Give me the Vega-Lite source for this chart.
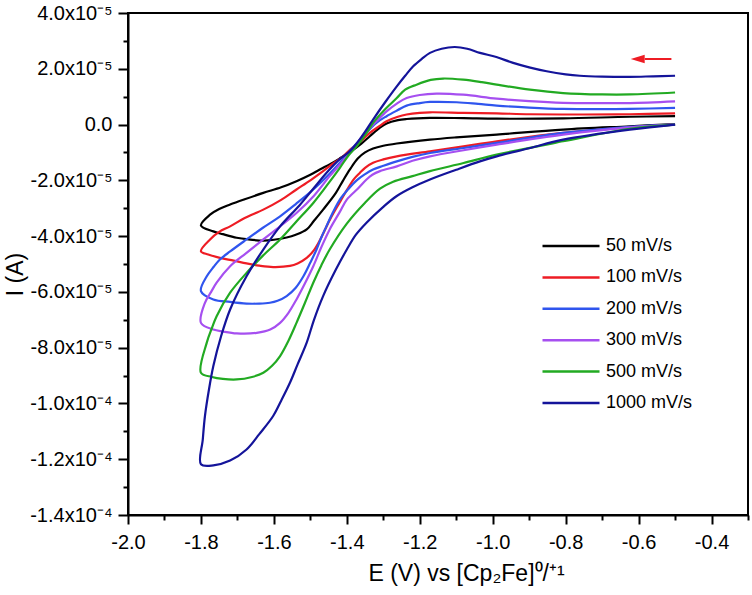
{
"$schema": "https://vega.github.io/schema/vega-lite/v6.json",
"autosize": "none",
"width": 620, "height": 502,
"padding": {"left": 128, "top": 13, "right": 4, "bottom": 80},
"background": "white",
"config": {"font": "Liberation Sans", "view": {"stroke": "black", "strokeWidth": 2}},
"datasets": {
"arrow": [{"a": -0.583, "b": -0.51, "I": 2.35e-5}],
"head": [{"E": -0.6025, "I": 2.35e-5}],
"cv": [
{"s":"50 mV/s","i":0,"E":-0.5,"I":0.02e-5},{"s":"50 mV/s","i":1,"E":-0.624,"I":-0.06e-5},{"s":"50 mV/s","i":2,"E":-0.807,"I":-0.18e-5},{"s":"50 mV/s","i":3,"E":-0.989,"I":-0.36e-5},{"s":"50 mV/s","i":4,"E":-1.1,"I":-0.46e-5},{"s":"50 mV/s","i":5,"E":-1.172,"I":-0.54e-5},{"s":"50 mV/s","i":6,"E":-1.263,"I":-0.68e-5},{"s":"50 mV/s","i":7,"E":-1.3,"I":-0.76e-5},{"s":"50 mV/s","i":8,"E":-1.328,"I":-0.86e-5},{"s":"50 mV/s","i":9,"E":-1.35,"I":-1.0e-5},{"s":"50 mV/s","i":10,"E":-1.37,"I":-1.22e-5},{"s":"50 mV/s","i":11,"E":-1.391,"I":-1.6e-5},{"s":"50 mV/s","i":12,"E":-1.41,"I":-2.0e-5},{"s":"50 mV/s","i":13,"E":-1.43,"I":-2.45e-5},{"s":"50 mV/s","i":14,"E":-1.465,"I":-3.05e-5},{"s":"50 mV/s","i":15,"E":-1.49,"I":-3.45e-5},{"s":"50 mV/s","i":16,"E":-1.51,"I":-3.76e-5},{"s":"50 mV/s","i":17,"E":-1.54,"I":-3.95e-5},{"s":"50 mV/s","i":18,"E":-1.565,"I":-4.05e-5},{"s":"50 mV/s","i":19,"E":-1.6,"I":-4.13e-5},{"s":"50 mV/s","i":20,"E":-1.629,"I":-4.16e-5},{"s":"50 mV/s","i":21,"E":-1.67,"I":-4.12e-5},{"s":"50 mV/s","i":22,"E":-1.702,"I":-4.06e-5},{"s":"50 mV/s","i":23,"E":-1.74,"I":-3.93e-5},{"s":"50 mV/s","i":24,"E":-1.766,"I":-3.83e-5},{"s":"50 mV/s","i":25,"E":-1.8,"I":-3.62e-5},{"s":"50 mV/s","i":26,"E":-1.775,"I":-3.23e-5},{"s":"50 mV/s","i":27,"E":-1.75,"I":-3.03e-5},{"s":"50 mV/s","i":28,"E":-1.72,"I":-2.87e-5},{"s":"50 mV/s","i":29,"E":-1.68,"I":-2.68e-5},{"s":"50 mV/s","i":30,"E":-1.629,"I":-2.45e-5},{"s":"50 mV/s","i":31,"E":-1.58,"I":-2.25e-5},{"s":"50 mV/s","i":32,"E":-1.538,"I":-2.03e-5},{"s":"50 mV/s","i":33,"E":-1.5,"I":-1.8e-5},{"s":"50 mV/s","i":34,"E":-1.474,"I":-1.61e-5},{"s":"50 mV/s","i":35,"E":-1.446,"I":-1.42e-5},{"s":"50 mV/s","i":36,"E":-1.42,"I":-1.22e-5},{"s":"50 mV/s","i":37,"E":-1.391,"I":-0.98e-5},{"s":"50 mV/s","i":38,"E":-1.36,"I":-0.68e-5},{"s":"50 mV/s","i":39,"E":-1.337,"I":-0.42e-5},{"s":"50 mV/s","i":40,"E":-1.31,"I":-0.12e-5},{"s":"50 mV/s","i":41,"E":-1.291,"I":0.04e-5},{"s":"50 mV/s","i":42,"E":-1.26,"I":0.16e-5},{"s":"50 mV/s","i":43,"E":-1.236,"I":0.2e-5},{"s":"50 mV/s","i":44,"E":-1.172,"I":0.24e-5},{"s":"50 mV/s","i":45,"E":-1.08,"I":0.23e-5},{"s":"50 mV/s","i":46,"E":-0.989,"I":0.21e-5},{"s":"50 mV/s","i":47,"E":-0.807,"I":0.22e-5},{"s":"50 mV/s","i":48,"E":-0.624,"I":0.28e-5},{"s":"50 mV/s","i":49,"E":-0.5,"I":0.3e-5},

{"s":"100 mV/s","i":0,"E":-0.5,"I":0},{"s":"100 mV/s","i":1,"E":-0.624,"I":-0.1e-5},{"s":"100 mV/s","i":2,"E":-0.807,"I":-0.3e-5},{"s":"100 mV/s","i":3,"E":-0.989,"I":-0.6e-5},{"s":"100 mV/s","i":4,"E":-1.08,"I":-0.78e-5},{"s":"100 mV/s","i":5,"E":-1.172,"I":-0.96e-5},{"s":"100 mV/s","i":6,"E":-1.263,"I":-1.14e-5},{"s":"100 mV/s","i":7,"E":-1.3,"I":-1.25e-5},{"s":"100 mV/s","i":8,"E":-1.328,"I":-1.37e-5},{"s":"100 mV/s","i":9,"E":-1.35,"I":-1.55e-5},{"s":"100 mV/s","i":10,"E":-1.364,"I":-1.73e-5},{"s":"100 mV/s","i":11,"E":-1.38,"I":-1.95e-5},{"s":"100 mV/s","i":12,"E":-1.4,"I":-2.35e-5},{"s":"100 mV/s","i":13,"E":-1.42,"I":-2.8e-5},{"s":"100 mV/s","i":14,"E":-1.446,"I":-3.4e-5},{"s":"100 mV/s","i":15,"E":-1.474,"I":-4.15e-5},{"s":"100 mV/s","i":16,"E":-1.49,"I":-4.5e-5},{"s":"100 mV/s","i":17,"E":-1.51,"I":-4.78e-5},{"s":"100 mV/s","i":18,"E":-1.535,"I":-4.98e-5},{"s":"100 mV/s","i":19,"E":-1.556,"I":-5.07e-5},{"s":"100 mV/s","i":20,"E":-1.602,"I":-5.11e-5},{"s":"100 mV/s","i":21,"E":-1.64,"I":-5.06e-5},{"s":"100 mV/s","i":22,"E":-1.675,"I":-4.98e-5},{"s":"100 mV/s","i":23,"E":-1.71,"I":-4.88e-5},{"s":"100 mV/s","i":24,"E":-1.748,"I":-4.78e-5},{"s":"100 mV/s","i":25,"E":-1.78,"I":-4.66e-5},{"s":"100 mV/s","i":26,"E":-1.8,"I":-4.54e-5},{"s":"100 mV/s","i":27,"E":-1.775,"I":-4.12e-5},{"s":"100 mV/s","i":28,"E":-1.75,"I":-3.85e-5},{"s":"100 mV/s","i":29,"E":-1.72,"I":-3.65e-5},{"s":"100 mV/s","i":30,"E":-1.68,"I":-3.35e-5},{"s":"100 mV/s","i":31,"E":-1.629,"I":-3.05e-5},{"s":"100 mV/s","i":32,"E":-1.58,"I":-2.7e-5},{"s":"100 mV/s","i":33,"E":-1.538,"I":-2.33e-5},{"s":"100 mV/s","i":34,"E":-1.5,"I":-2.0e-5},{"s":"100 mV/s","i":35,"E":-1.465,"I":-1.67e-5},{"s":"100 mV/s","i":36,"E":-1.44,"I":-1.42e-5},{"s":"100 mV/s","i":37,"E":-1.41,"I":-1.14e-5},{"s":"100 mV/s","i":38,"E":-1.391,"I":-0.9e-5},{"s":"100 mV/s","i":39,"E":-1.36,"I":-0.58e-5},{"s":"100 mV/s","i":40,"E":-1.337,"I":-0.3e-5},{"s":"100 mV/s","i":41,"E":-1.31,"I":-0.05e-5},{"s":"100 mV/s","i":42,"E":-1.291,"I":0.12e-5},{"s":"100 mV/s","i":43,"E":-1.26,"I":0.28e-5},{"s":"100 mV/s","i":44,"E":-1.236,"I":0.36e-5},{"s":"100 mV/s","i":45,"E":-1.2,"I":0.42e-5},{"s":"100 mV/s","i":46,"E":-1.172,"I":0.44e-5},{"s":"100 mV/s","i":47,"E":-1.081,"I":0.42e-5},{"s":"100 mV/s","i":48,"E":-0.989,"I":0.4e-5},{"s":"100 mV/s","i":49,"E":-0.898,"I":0.37e-5},{"s":"100 mV/s","i":50,"E":-0.75,"I":0.36e-5},{"s":"100 mV/s","i":51,"E":-0.624,"I":0.37e-5},{"s":"100 mV/s","i":52,"E":-0.5,"I":0.4e-5},

{"s":"200 mV/s","i":0,"E":-0.5,"I":0},{"s":"200 mV/s","i":1,"E":-0.624,"I":-0.08e-5},{"s":"200 mV/s","i":2,"E":-0.807,"I":-0.3e-5},{"s":"200 mV/s","i":3,"E":-0.989,"I":-0.66e-5},{"s":"200 mV/s","i":4,"E":-1.08,"I":-0.84e-5},{"s":"200 mV/s","i":5,"E":-1.172,"I":-1.02e-5},{"s":"200 mV/s","i":6,"E":-1.22,"I":-1.16e-5},{"s":"200 mV/s","i":7,"E":-1.263,"I":-1.32e-5},{"s":"200 mV/s","i":8,"E":-1.3,"I":-1.48e-5},{"s":"200 mV/s","i":9,"E":-1.328,"I":-1.61e-5},{"s":"200 mV/s","i":10,"E":-1.35,"I":-1.78e-5},{"s":"200 mV/s","i":11,"E":-1.373,"I":-2.0e-5},{"s":"200 mV/s","i":12,"E":-1.395,"I":-2.3e-5},{"s":"200 mV/s","i":13,"E":-1.419,"I":-2.69e-5},{"s":"200 mV/s","i":14,"E":-1.44,"I":-3.2e-5},{"s":"200 mV/s","i":15,"E":-1.456,"I":-3.65e-5},{"s":"200 mV/s","i":16,"E":-1.47,"I":-4.05e-5},{"s":"200 mV/s","i":17,"E":-1.483,"I":-4.48e-5},{"s":"200 mV/s","i":18,"E":-1.5,"I":-4.95e-5},{"s":"200 mV/s","i":19,"E":-1.519,"I":-5.44e-5},{"s":"200 mV/s","i":20,"E":-1.54,"I":-5.85e-5},{"s":"200 mV/s","i":21,"E":-1.565,"I":-6.15e-5},{"s":"200 mV/s","i":22,"E":-1.59,"I":-6.32e-5},{"s":"200 mV/s","i":23,"E":-1.611,"I":-6.39e-5},{"s":"200 mV/s","i":24,"E":-1.64,"I":-6.42e-5},{"s":"200 mV/s","i":25,"E":-1.675,"I":-6.42e-5},{"s":"200 mV/s","i":26,"E":-1.72,"I":-6.36e-5},{"s":"200 mV/s","i":27,"E":-1.766,"I":-6.27e-5},{"s":"200 mV/s","i":28,"E":-1.8,"I":-5.97e-5},{"s":"200 mV/s","i":29,"E":-1.784,"I":-5.44e-5},{"s":"200 mV/s","i":30,"E":-1.765,"I":-5.1e-5},{"s":"200 mV/s","i":31,"E":-1.748,"I":-4.84e-5},{"s":"200 mV/s","i":32,"E":-1.72,"I":-4.55e-5},{"s":"200 mV/s","i":33,"E":-1.675,"I":-4.12e-5},{"s":"200 mV/s","i":34,"E":-1.63,"I":-3.7e-5},{"s":"200 mV/s","i":35,"E":-1.583,"I":-3.29e-5},{"s":"200 mV/s","i":36,"E":-1.54,"I":-2.85e-5},{"s":"200 mV/s","i":37,"E":-1.492,"I":-2.33e-5},{"s":"200 mV/s","i":38,"E":-1.45,"I":-1.8e-5},{"s":"200 mV/s","i":39,"E":-1.419,"I":-1.37e-5},{"s":"200 mV/s","i":40,"E":-1.385,"I":-0.85e-5},{"s":"200 mV/s","i":41,"E":-1.355,"I":-0.42e-5},{"s":"200 mV/s","i":42,"E":-1.32,"I":0.05e-5},{"s":"200 mV/s","i":43,"E":-1.291,"I":0.3e-5},{"s":"200 mV/s","i":44,"E":-1.26,"I":0.52e-5},{"s":"200 mV/s","i":45,"E":-1.236,"I":0.68e-5},{"s":"200 mV/s","i":46,"E":-1.2,"I":0.77e-5},{"s":"200 mV/s","i":47,"E":-1.172,"I":0.81e-5},{"s":"200 mV/s","i":48,"E":-1.099,"I":0.8e-5},{"s":"200 mV/s","i":49,"E":-1.04,"I":0.74e-5},{"s":"200 mV/s","i":50,"E":-0.989,"I":0.68e-5},{"s":"200 mV/s","i":51,"E":-0.9,"I":0.61e-5},{"s":"200 mV/s","i":52,"E":-0.807,"I":0.56e-5},{"s":"200 mV/s","i":53,"E":-0.7,"I":0.55e-5},{"s":"200 mV/s","i":54,"E":-0.624,"I":0.56e-5},{"s":"200 mV/s","i":55,"E":-0.5,"I":0.6e-5},

{"s":"300 mV/s","i":0,"E":-0.5,"I":0},{"s":"300 mV/s","i":1,"E":-0.624,"I":-0.1e-5},{"s":"300 mV/s","i":2,"E":-0.807,"I":-0.36e-5},{"s":"300 mV/s","i":3,"E":-0.989,"I":-0.72e-5},{"s":"300 mV/s","i":4,"E":-1.08,"I":-0.92e-5},{"s":"300 mV/s","i":5,"E":-1.172,"I":-1.14e-5},{"s":"300 mV/s","i":6,"E":-1.22,"I":-1.3e-5},{"s":"300 mV/s","i":7,"E":-1.263,"I":-1.5e-5},{"s":"300 mV/s","i":8,"E":-1.309,"I":-1.67e-5},{"s":"300 mV/s","i":9,"E":-1.33,"I":-1.8e-5},{"s":"300 mV/s","i":10,"E":-1.346,"I":-1.97e-5},{"s":"300 mV/s","i":11,"E":-1.37,"I":-2.3e-5},{"s":"300 mV/s","i":12,"E":-1.4,"I":-2.69e-5},{"s":"300 mV/s","i":13,"E":-1.42,"I":-3.15e-5},{"s":"300 mV/s","i":14,"E":-1.447,"I":-3.76e-5},{"s":"300 mV/s","i":15,"E":-1.47,"I":-4.4e-5},{"s":"300 mV/s","i":16,"E":-1.492,"I":-5.08e-5},{"s":"300 mV/s","i":17,"E":-1.515,"I":-5.7e-5},{"s":"300 mV/s","i":18,"E":-1.538,"I":-6.27e-5},{"s":"300 mV/s","i":19,"E":-1.56,"I":-6.75e-5},{"s":"300 mV/s","i":20,"E":-1.583,"I":-7.11e-5},{"s":"300 mV/s","i":21,"E":-1.61,"I":-7.35e-5},{"s":"300 mV/s","i":22,"E":-1.647,"I":-7.47e-5},{"s":"300 mV/s","i":23,"E":-1.702,"I":-7.49e-5},{"s":"300 mV/s","i":24,"E":-1.74,"I":-7.42e-5},{"s":"300 mV/s","i":25,"E":-1.766,"I":-7.35e-5},{"s":"300 mV/s","i":26,"E":-1.8,"I":-7.11e-5},{"s":"300 mV/s","i":27,"E":-1.789,"I":-6.39e-5},{"s":"300 mV/s","i":28,"E":-1.772,"I":-6.0e-5},{"s":"300 mV/s","i":29,"E":-1.757,"I":-5.67e-5},{"s":"300 mV/s","i":30,"E":-1.72,"I":-5.08e-5},{"s":"300 mV/s","i":31,"E":-1.675,"I":-4.6e-5},{"s":"300 mV/s","i":32,"E":-1.629,"I":-4.12e-5},{"s":"300 mV/s","i":33,"E":-1.583,"I":-3.65e-5},{"s":"300 mV/s","i":34,"E":-1.538,"I":-3.17e-5},{"s":"300 mV/s","i":35,"E":-1.49,"I":-2.55e-5},{"s":"300 mV/s","i":36,"E":-1.447,"I":-1.85e-5},{"s":"300 mV/s","i":37,"E":-1.42,"I":-1.45e-5},{"s":"300 mV/s","i":38,"E":-1.4,"I":-1.14e-5},{"s":"300 mV/s","i":39,"E":-1.38,"I":-0.85e-5},{"s":"300 mV/s","i":40,"E":-1.355,"I":-0.36e-5},{"s":"300 mV/s","i":41,"E":-1.32,"I":0.1e-5},{"s":"300 mV/s","i":42,"E":-1.291,"I":0.47e-5},{"s":"300 mV/s","i":43,"E":-1.26,"I":0.78e-5},{"s":"300 mV/s","i":44,"E":-1.236,"I":0.95e-5},{"s":"300 mV/s","i":45,"E":-1.2,"I":1.06e-5},{"s":"300 mV/s","i":46,"E":-1.154,"I":1.11e-5},{"s":"300 mV/s","i":47,"E":-1.081,"I":1.07e-5},{"s":"300 mV/s","i":48,"E":-0.989,"I":0.93e-5},{"s":"300 mV/s","i":49,"E":-0.9,"I":0.84e-5},{"s":"300 mV/s","i":50,"E":-0.807,"I":0.78e-5},{"s":"300 mV/s","i":51,"E":-0.7,"I":0.77e-5},{"s":"300 mV/s","i":52,"E":-0.624,"I":0.77e-5},{"s":"300 mV/s","i":53,"E":-0.5,"I":0.83e-5},

{"s":"500 mV/s","i":0,"E":-0.5,"I":0},{"s":"500 mV/s","i":1,"E":-0.624,"I":-0.15e-5},{"s":"500 mV/s","i":2,"E":-0.807,"I":-0.6e-5},{"s":"500 mV/s","i":3,"E":-0.989,"I":-1.08e-5},{"s":"500 mV/s","i":4,"E":-1.08,"I":-1.38e-5},{"s":"500 mV/s","i":5,"E":-1.172,"I":-1.67e-5},{"s":"500 mV/s","i":6,"E":-1.22,"I":-1.85e-5},{"s":"500 mV/s","i":7,"E":-1.273,"I":-2.05e-5},{"s":"500 mV/s","i":8,"E":-1.309,"I":-2.3e-5},{"s":"500 mV/s","i":9,"E":-1.35,"I":-2.8e-5},{"s":"500 mV/s","i":10,"E":-1.4,"I":-3.55e-5},{"s":"500 mV/s","i":11,"E":-1.447,"I":-4.48e-5},{"s":"500 mV/s","i":12,"E":-1.47,"I":-5.05e-5},{"s":"500 mV/s","i":13,"E":-1.492,"I":-5.67e-5},{"s":"500 mV/s","i":14,"E":-1.515,"I":-6.4e-5},{"s":"500 mV/s","i":15,"E":-1.538,"I":-7.11e-5},{"s":"500 mV/s","i":16,"E":-1.56,"I":-7.75e-5},{"s":"500 mV/s","i":17,"E":-1.583,"I":-8.3e-5},{"s":"500 mV/s","i":18,"E":-1.605,"I":-8.65e-5},{"s":"500 mV/s","i":19,"E":-1.629,"I":-8.9e-5},{"s":"500 mV/s","i":20,"E":-1.66,"I":-9.05e-5},{"s":"500 mV/s","i":21,"E":-1.702,"I":-9.14e-5},{"s":"500 mV/s","i":22,"E":-1.74,"I":-9.12e-5},{"s":"500 mV/s","i":23,"E":-1.77,"I":-9.05e-5},{"s":"500 mV/s","i":24,"E":-1.8,"I":-8.9e-5},{"s":"500 mV/s","i":25,"E":-1.784,"I":-7.82e-5},{"s":"500 mV/s","i":26,"E":-1.77,"I":-7.3e-5},{"s":"500 mV/s","i":27,"E":-1.757,"I":-6.87e-5},{"s":"500 mV/s","i":28,"E":-1.72,"I":-6.03e-5},{"s":"500 mV/s","i":29,"E":-1.675,"I":-5.32e-5},{"s":"500 mV/s","i":30,"E":-1.63,"I":-4.7e-5},{"s":"500 mV/s","i":31,"E":-1.583,"I":-4.12e-5},{"s":"500 mV/s","i":32,"E":-1.54,"I":-3.5e-5},{"s":"500 mV/s","i":33,"E":-1.492,"I":-2.81e-5},{"s":"500 mV/s","i":34,"E":-1.45,"I":-2.1e-5},{"s":"500 mV/s","i":35,"E":-1.419,"I":-1.55e-5},{"s":"500 mV/s","i":36,"E":-1.395,"I":-1.1e-5},{"s":"500 mV/s","i":37,"E":-1.373,"I":-0.78e-5},{"s":"500 mV/s","i":38,"E":-1.35,"I":-0.38e-5},{"s":"500 mV/s","i":39,"E":-1.328,"I":0.06e-5},{"s":"500 mV/s","i":40,"E":-1.295,"I":0.55e-5},{"s":"500 mV/s","i":41,"E":-1.263,"I":0.95e-5},{"s":"500 mV/s","i":42,"E":-1.24,"I":1.25e-5},{"s":"500 mV/s","i":43,"E":-1.209,"I":1.43e-5},{"s":"500 mV/s","i":44,"E":-1.17,"I":1.6e-5},{"s":"500 mV/s","i":45,"E":-1.136,"I":1.65e-5},{"s":"500 mV/s","i":46,"E":-1.081,"I":1.61e-5},{"s":"500 mV/s","i":47,"E":-1.03,"I":1.52e-5},{"s":"500 mV/s","i":48,"E":-0.989,"I":1.43e-5},{"s":"500 mV/s","i":49,"E":-0.898,"I":1.25e-5},{"s":"500 mV/s","i":50,"E":-0.807,"I":1.13e-5},{"s":"500 mV/s","i":51,"E":-0.7,"I":1.08e-5},{"s":"500 mV/s","i":52,"E":-0.624,"I":1.08e-5},{"s":"500 mV/s","i":53,"E":-0.5,"I":1.15e-5},

{"s":"1000 mV/s","i":0,"E":-0.5,"I":0},{"s":"1000 mV/s","i":1,"E":-0.624,"I":-0.18e-5},{"s":"1000 mV/s","i":2,"E":-0.807,"I":-0.54e-5},{"s":"1000 mV/s","i":3,"E":-0.9,"I":-0.85e-5},{"s":"1000 mV/s","i":4,"E":-0.989,"I":-1.14e-5},{"s":"1000 mV/s","i":5,"E":-1.035,"I":-1.32e-5},{"s":"1000 mV/s","i":6,"E":-1.1,"I":-1.62e-5},{"s":"1000 mV/s","i":7,"E":-1.172,"I":-1.97e-5},{"s":"1000 mV/s","i":8,"E":-1.22,"I":-2.25e-5},{"s":"1000 mV/s","i":9,"E":-1.264,"I":-2.57e-5},{"s":"1000 mV/s","i":10,"E":-1.3,"I":-2.95e-5},{"s":"1000 mV/s","i":11,"E":-1.346,"I":-3.52e-5},{"s":"1000 mV/s","i":12,"E":-1.375,"I":-3.95e-5},{"s":"1000 mV/s","i":13,"E":-1.4,"I":-4.48e-5},{"s":"1000 mV/s","i":14,"E":-1.43,"I":-5.2e-5},{"s":"1000 mV/s","i":15,"E":-1.465,"I":-6.15e-5},{"s":"1000 mV/s","i":16,"E":-1.49,"I":-7.0e-5},{"s":"1000 mV/s","i":17,"E":-1.51,"I":-7.82e-5},{"s":"1000 mV/s","i":18,"E":-1.535,"I":-8.6e-5},{"s":"1000 mV/s","i":19,"E":-1.556,"I":-9.26e-5},{"s":"1000 mV/s","i":20,"E":-1.58,"I":-9.9e-5},{"s":"1000 mV/s","i":21,"E":-1.602,"I":-10.45e-5},{"s":"1000 mV/s","i":22,"E":-1.64,"I":-11.1e-5},{"s":"1000 mV/s","i":23,"E":-1.675,"I":-11.65e-5},{"s":"1000 mV/s","i":24,"E":-1.72,"I":-12.05e-5},{"s":"1000 mV/s","i":25,"E":-1.766,"I":-12.22e-5},{"s":"1000 mV/s","i":26,"E":-1.8,"I":-12.18e-5},{"s":"1000 mV/s","i":27,"E":-1.795,"I":-11.3e-5},{"s":"1000 mV/s","i":28,"E":-1.789,"I":-10.45e-5},{"s":"1000 mV/s","i":29,"E":-1.778,"I":-9.5e-5},{"s":"1000 mV/s","i":30,"E":-1.766,"I":-8.66e-5},{"s":"1000 mV/s","i":31,"E":-1.745,"I":-7.6e-5},{"s":"1000 mV/s","i":32,"E":-1.72,"I":-6.63e-5},{"s":"1000 mV/s","i":33,"E":-1.675,"I":-5.44e-5},{"s":"1000 mV/s","i":34,"E":-1.63,"I":-4.5e-5},{"s":"1000 mV/s","i":35,"E":-1.583,"I":-3.65e-5},{"s":"1000 mV/s","i":36,"E":-1.53,"I":-2.9e-5},{"s":"1000 mV/s","i":37,"E":-1.492,"I":-2.3e-5},{"s":"1000 mV/s","i":38,"E":-1.45,"I":-1.65e-5},{"s":"1000 mV/s","i":39,"E":-1.42,"I":-1.25e-5},{"s":"1000 mV/s","i":40,"E":-1.391,"I":-0.95e-5},{"s":"1000 mV/s","i":41,"E":-1.36,"I":-0.45e-5},{"s":"1000 mV/s","i":42,"E":-1.328,"I":0.18e-5},{"s":"1000 mV/s","i":43,"E":-1.295,"I":0.8e-5},{"s":"1000 mV/s","i":44,"E":-1.263,"I":1.37e-5},{"s":"1000 mV/s","i":45,"E":-1.24,"I":1.75e-5},{"s":"1000 mV/s","i":46,"E":-1.218,"I":2.09e-5},{"s":"1000 mV/s","i":47,"E":-1.195,"I":2.35e-5},{"s":"1000 mV/s","i":48,"E":-1.172,"I":2.57e-5},{"s":"1000 mV/s","i":49,"E":-1.14,"I":2.72e-5},{"s":"1000 mV/s","i":50,"E":-1.104,"I":2.78e-5},{"s":"1000 mV/s","i":51,"E":-1.07,"I":2.72e-5},{"s":"1000 mV/s","i":52,"E":-1.035,"I":2.57e-5},{"s":"1000 mV/s","i":53,"E":-0.99,"I":2.42e-5},{"s":"1000 mV/s","i":54,"E":-0.944,"I":2.21e-5},{"s":"1000 mV/s","i":55,"E":-0.9,"I":2.05e-5},{"s":"1000 mV/s","i":56,"E":-0.852,"I":1.91e-5},{"s":"1000 mV/s","i":57,"E":-0.8,"I":1.8e-5},{"s":"1000 mV/s","i":58,"E":-0.761,"I":1.75e-5},{"s":"1000 mV/s","i":59,"E":-0.7,"I":1.72e-5},{"s":"1000 mV/s","i":60,"E":-0.624,"I":1.71e-5},{"s":"1000 mV/s","i":61,"E":-0.56,"I":1.73e-5},{"s":"1000 mV/s","i":62,"E":-0.5,"I":1.75e-5}
]
},
"resolve": {"axis": {"x": "independent", "y": "independent"}},
"layer": [
{
"data": {"name": "cv"},
"mark": {"type": "line", "strokeWidth": 2.2, "interpolate": "catmull-rom"},
"encoding": {
"x": {"field": "E", "type": "quantitative", "scale": {"domain": [-2.0, -0.3], "nice": false, "zero": false},
"axis": {"orient": "bottom", "values": [-2.0,-1.8,-1.6,-1.4,-1.2,-1.0,-0.8,-0.6,-0.4], "labelExpr": "replace(format(datum.value, '.1f'), '\u2212', '-')", "grid": false, "domainColor": "black", "domainWidth": 2, "tickColor": "black", "tickWidth": 2, "tickSize": 9, "labelFontSize": 20, "labelColor": "black", "labelPadding": 8, "labelFlush": false, "labelOverlap": false, "title": "E (V) vs [Cp₂Fe]⁰/⁺¹", "titleFontSize": 23, "titleFontWeight": "normal", "titleColor": "black", "titleX": 338, "titleY": 47, "titleBaseline": "top"}},
"y": {"field": "I", "type": "quantitative", "scale": {"domain": [-1.4e-4, 4e-5], "nice": false, "zero": false},
"axis": {"orient": "left", "values": [-1.4e-4,-1.2e-4,-1.0e-4,-8e-5,-6e-5,-4e-5,-2e-5,0,2e-5,4e-5], "labelExpr": "datum.value == 0 ? '0.0' : replace(replace(replace(format(datum.value, '.1e'), '\u2212', '-'), 'e-5', 'x10\u207B\u2075'), 'e-4', 'x10\u207B\u2074')", "grid": false, "domainColor": "black", "domainWidth": 2, "tickColor": "black", "tickWidth": 2, "tickSize": 10, "labelFontSize": 20, "labelColor": "black", "labelPadding": 6, "labelFlush": false, "labelOverlap": false, "title": "I (A)", "titleFontSize": 23, "titleFontWeight": "normal", "titleColor": "black", "titleX": -101, "titleY": 261}},
"color": {"field": "s", "type": "nominal",
"scale": {"domain": ["50 mV/s","100 mV/s","200 mV/s","300 mV/s","500 mV/s","1000 mV/s"], "range": ["#000000","#ee1c24","#2f55ee","#a64ff0","#22aa22","#14149a"]},
"legend": {"orient": "none", "legendX": 413, "legendY": 222, "title": null, "symbolType": "M -1 0 L 5 0", "symbolSize": 361, "symbolStrokeWidth": 2.5, "labelFontSize": 18, "labelColor": "black", "rowPadding": 11.4, "labelOffset": 43, "padding": 0, "labelLimit": 300}},
"detail": {"field": "s"},
"order": {"field": "i", "type": "quantitative"}
}
},
{
"data": {"name": "arrow"},
"mark": {"type": "rule", "color": "#ee1c24", "strokeWidth": 2},
"encoding": {
"x": {"field": "a", "type": "quantitative", "axis": {"orient": "bottom", "values": [-1.9,-1.7,-1.5,-1.3,-1.1,-0.9,-0.7,-0.5,-0.3], "labels": false, "domain": false, "grid": false, "tickColor": "black", "tickWidth": 2, "tickSize": 5, "title": null}},
"x2": {"field": "b"},
"y": {"field": "I", "type": "quantitative", "axis": {"orient": "left", "values": [-1.3e-4,-1.1e-4,-9e-5,-7e-5,-5e-5,-3e-5,-1e-5,1e-5,3e-5], "labels": false, "domain": false, "grid": false, "tickColor": "black", "tickWidth": 2, "tickSize": 5, "title": null}}
}
},
{
"data": {"name": "head"},
"mark": {"type": "point", "shape": "M 1 -0.6 L -1 0 L 1 0.6 Z", "filled": true, "color": "#ee1c24", "size": 196, "opacity": 1},
"encoding": {
"x": {"field": "E", "type": "quantitative", "axis": null},
"y": {"field": "I", "type": "quantitative", "axis": null}
}
}
]
}
